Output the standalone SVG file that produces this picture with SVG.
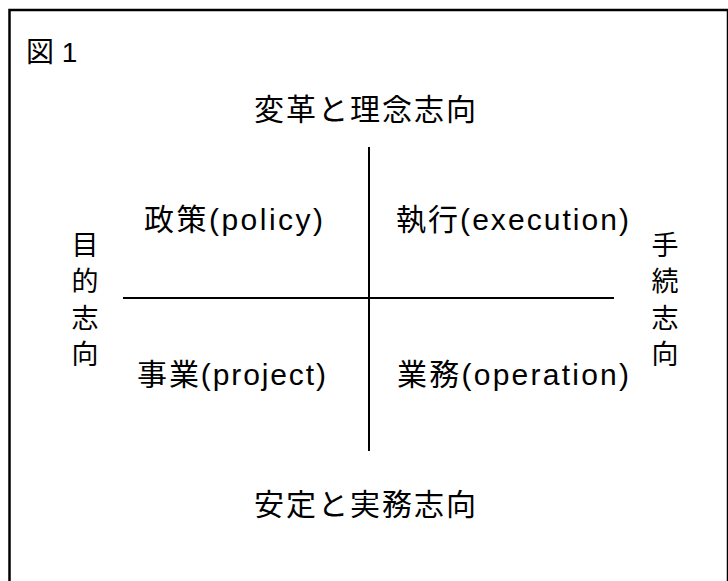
<svg xmlns="http://www.w3.org/2000/svg" width="728" height="581" viewBox="0 0 728 581">
<style>
.t{font-family:"Liberation Sans","Noto Sans CJK JP",sans-serif;fill:#000;}
.j{font-family:"Noto Sans CJK JP",sans-serif;}
.q{font-size:30px;}
.v{font-size:27px;writing-mode:vertical-rl;letter-spacing:9.5px;font-family:"Noto Sans CJK JP",sans-serif;}
.ax{stroke:#000;stroke-width:2;fill:none;}
</style>
<rect x="0" y="0" width="728" height="581" fill="#fff"/>
<rect x="9.5" y="10" width="718.5" height="600" fill="none" stroke="#000" stroke-width="2.5"/>
<g id="fig-label"><text class="t" x="26" y="62" font-size="28"><tspan class="j">図</tspan> 1</text></g>
<g id="connectors">
<line class="ax" x1="369" y1="147" x2="369" y2="451"/>
<line class="ax" x1="123" y1="298" x2="614" y2="298"/>
</g>
<g id="top-label"><text class="t j" x="254" y="120" font-size="30" textLength="222" lengthAdjust="spacing">変革と理念志向</text></g>
<g id="bottom-label"><text class="t j" x="254" y="515" font-size="30" textLength="222" lengthAdjust="spacing">安定と実務志向</text></g>
<g id="policy"><text class="t q" x="144" y="230" textLength="179" lengthAdjust="spacing">政策(policy)</text></g>
<g id="execution"><text class="t q" x="396" y="230" textLength="233" lengthAdjust="spacing">執行(execution)</text></g>
<g id="project"><text class="t q" x="137" y="385" textLength="189" lengthAdjust="spacing">事業(project)</text></g>
<g id="operation"><text class="t q" x="397" y="385" textLength="232" lengthAdjust="spacing">業務(operation)</text></g>
<g id="left-label"><text class="t v" x="85" y="231">目的志向</text></g>
<g id="right-label"><text class="t v" x="665" y="231">手続志向</text></g>
</svg>
